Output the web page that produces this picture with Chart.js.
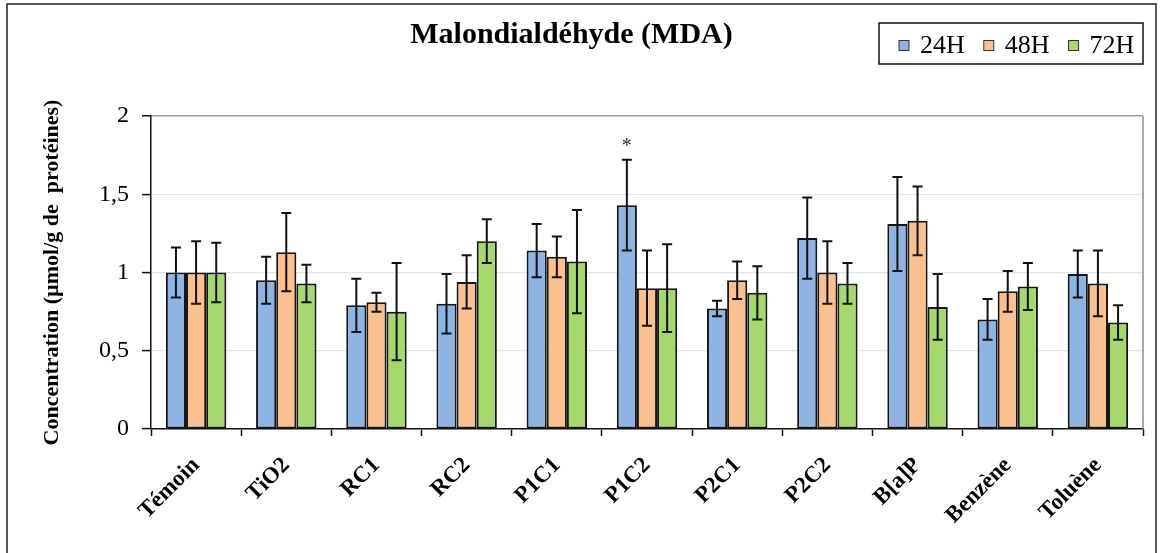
<!DOCTYPE html>
<html>
<head>
<meta charset="utf-8">
<script src="https://cdn.jsdelivr.net/npm/chart.js@4.4.1/dist/chart.umd.min.js"></script>
<style>
  html, body { margin: 0; padding: 0; background: #fff; }
  #wrap { width: 1163px; height: 553px; }
</style>
</head>
<body>
<div id="wrap"><canvas id="mda" width="1163" height="553"></canvas></div>
<script>
const categories = ["Témoin", "TiO2", "RC1", "RC2", "P1C1", "P1C2", "P2C1", "P2C2", "B[a]P", "Benzène", "Toluène"];
const seriesNames = ["24H", "48H", "72H"];
const seriesColors = ["#8EB4E3", "#FAC090", "#A6D86E"];
const yTickLabels = ["0", "0,5", "1", "1,5", "2"];

const mda24h = [1.00, 0.95, 0.79, 0.80, 1.14, 1.43, 0.77, 1.22, 1.31, 0.70, 0.99];
const mda48h = [1.00, 1.13, 0.81, 0.94, 1.10, 0.90, 0.95, 1.00, 1.33, 0.88, 0.93];
const mda72h = [1.00, 0.93, 0.75, 1.20, 1.07, 0.90, 0.87, 0.93, 0.78, 0.91, 0.68];

const err24h = [0.16, 0.15, 0.17, 0.19, 0.17, 0.29, 0.05, 0.26, 0.30, 0.13, 0.15];
const err48h = [0.20, 0.25, 0.06, 0.17, 0.13, 0.24, 0.12, 0.20, 0.22, 0.13, 0.21];
const err72h = [0.19, 0.12, 0.31, 0.14, 0.33, 0.28, 0.17, 0.13, 0.21, 0.15, 0.11];

const signif24h = ["", "", "", "", "", "*", "", "", "", "", ""];

const SERIF = "'Liberation Serif', 'Times New Roman', serif";

// error bars + significance stars
const errorBars = {
  id: "errorBars",
  afterDatasetsDraw(chart) {
    const { ctx } = chart;
    const y = chart.scales.y;
    ctx.save();
    ctx.strokeStyle = "#111";
    ctx.lineWidth = 2;
    chart.data.datasets.forEach((ds, i) => {
      const meta = chart.getDatasetMeta(i);
      meta.data.forEach((bar, j) => {
        const v = ds.data[j], e = ds.errors[j];
        const top = y.getPixelForValue(v + e);
        const bot = y.getPixelForValue(v - e);
        ctx.beginPath();
        ctx.moveTo(bar.x, top); ctx.lineTo(bar.x, bot);
        ctx.moveTo(bar.x - 5, top); ctx.lineTo(bar.x + 5, top);
        ctx.moveTo(bar.x - 5, bot); ctx.lineTo(bar.x + 5, bot);
        ctx.stroke();
        if (ds.marks && ds.marks[j]) {
          ctx.fillStyle = "#333";
          ctx.font = "20px " + SERIF;
          ctx.textAlign = "center";
          ctx.textBaseline = "bottom";
          ctx.fillText(ds.marks[j], bar.x, top - 3);
        }
      });
    });
    ctx.restore();
  }
};

// outer frame, plot right border and boxed legend
const frameAndLegend = {
  id: "frameAndLegend",
  afterDraw(chart) {
    const { ctx, chartArea } = chart;
    ctx.save();
    ctx.strokeStyle = "#222";
    ctx.lineWidth = 1.5;
    ctx.strokeRect(7, 4, 1149, 600);

    ctx.strokeStyle = "#8c8c8c";
    ctx.beginPath();
    ctx.moveTo(chartArea.right, chartArea.top);
    ctx.lineTo(chartArea.right, chartArea.bottom);
    ctx.stroke();

    // legend box
    const boxRight = chartArea.right, boxLeft = 879, boxTop = 23, boxBottom = 64;
    ctx.strokeStyle = "#111";
    ctx.lineWidth = 1.5;
    ctx.strokeRect(boxLeft, boxTop, boxRight - boxLeft, boxBottom - boxTop);
    ctx.font = "26px " + SERIF;
    ctx.textBaseline = "middle";
    ctx.textAlign = "left";
    let x = boxLeft + 20;
    const cy = (boxTop + boxBottom) / 2 + 2;
    chart.data.datasets.forEach((ds) => {
      ctx.fillStyle = ds.backgroundColor;
      ctx.fillRect(x, cy - 5, 10, 10);
      ctx.strokeStyle = "#333";
      ctx.lineWidth = 1;
      ctx.strokeRect(x, cy - 5, 10, 10);
      ctx.fillStyle = "#000";
      ctx.fillText(ds.label, x + 21, cy + 1);
      x += 21 + ctx.measureText(ds.label).width + 19;
    });
    ctx.restore();
  }
};

const values = [mda24h, mda48h, mda72h];
const errors = [err24h, err48h, err72h];

new Chart(document.getElementById("mda"), {
  type: "bar",
  data: {
    labels: categories,
    datasets: seriesNames.map((name, i) => ({
      label: name,
      data: values[i],
      errors: errors[i],
      marks: i === 0 ? signif24h : null,
      backgroundColor: seriesColors[i],
      borderColor: "#151515",
      borderWidth: 2,
      borderSkipped: false,
      categoryPercentage: 0.67,
      barPercentage: 1.0,
    })),
  },
  options: {
    responsive: false,
    animation: false,
    layout: { padding: { top: 0, right: 20, left: 0, bottom: 0 } },
    plugins: {
      legend: { display: false },
      tooltip: { enabled: false },
      title: {
        display: true,
        text: "Malondialdéhyde (MDA)",
        color: "#000",
        font: { family: SERIF, size: 30, weight: "bold" },
        padding: { top: 17, bottom: 63 },
      },
    },
    scales: {
      x: {
        offset: true,
        border: { color: "#111", width: 1.5 },
        grid: { display: true, drawOnChartArea: false, drawTicks: true, tickLength: 7, tickColor: "#111", tickWidth: 1.5, offset: true },
        ticks: {
          color: "#000",
          autoSkip: false,
          maxRotation: 45,
          minRotation: 45,
          padding: 16,
          font: { family: SERIF, size: 23, weight: "bold" },
        },
        afterFit(scale) { scale.height = 124; },
      },
      y: {
        min: 0,
        max: 2,
        border: { color: "#111", width: 1.5 },
        grid: {
          color: (c) => (c.tick && c.tick.value === 2 ? "#9a9a9a" : "#dfe5f3"),
          lineWidth: (c) => (c.tick && c.tick.value === 2 ? 1.5 : 1.2),
          tickColor: "#111",
          tickLength: 9,
          tickWidth: 1.5,
        },
        ticks: {
          stepSize: 0.5,
          color: "#000",
          padding: 13,
          font: { family: SERIF, size: 24 },
          callback: (v, idx) => yTickLabels[idx],
        },
        title: {
          display: true,
          text: "Concentration (µmol/g de  protéines)",
          color: "#000",
          font: { family: SERIF, size: 22, weight: "bold" },
          padding: { top: 39, bottom: 0 },
        },
        afterFit(scale) { scale.width = 151; },
      },
    },
  },
  plugins: [errorBars, frameAndLegend],
});
</script>
</body>
</html>
